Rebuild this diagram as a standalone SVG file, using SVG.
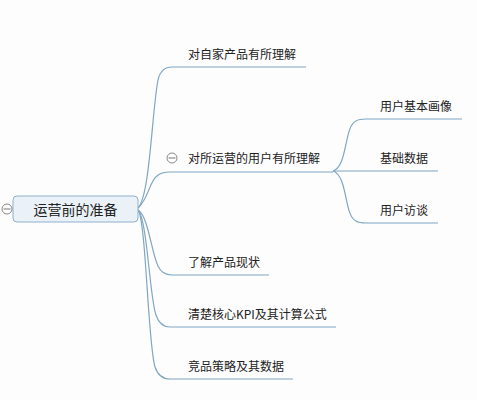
<svg xmlns="http://www.w3.org/2000/svg" width="477" height="400" viewBox="0 0 477 400">
<style>
.ln{fill:none;stroke:#7fa6c2;stroke-width:1.2}
.t{font-family:"Noto Sans CJK SC","Noto Sans",sans-serif;font-size:12px;fill:#222}
.rt{font-family:"Noto Sans CJK SC","Noto Sans",sans-serif;font-size:14px;fill:#222}
.cc{fill:#fff;stroke:#888;stroke-width:1}
.cm{stroke:#777;stroke-width:1}
</style>
<rect width="477" height="400" fill="#fdfdfe"/>
<g id="connectors">
<path class="ln" d="M138,208 C150,196 152,110 158,80 Q161,67 172,67 H306"/>
<path class="ln" d="M138,208 C148,200 150,180 157,176 Q161,172 170,172 H333"/>
<path class="ln" d="M138,210 C148,215 152,255 158,266 Q162,275 172,275 H269"/>
<path class="ln" d="M138,210 C147,218 150,300 156,315 Q160,327 170,327 H336"/>
<path class="ln" d="M138,210 C146,220 148,345 155,367 Q159,379 170,379 H293"/>
<path class="ln" d="M333,171 C348,166 344,126 356,121 Q359,119 366,119 H462"/>
<path class="ln" d="M333,171 H438"/>
<path class="ln" d="M333,171 C348,176 344,216 356,221 Q359,223 366,223 H438"/>
</g>
<g id="root">
<rect x="13" y="196" width="125" height="26" rx="4" fill="#eaf1f7" stroke="#8fb0cb" stroke-width="1"/>
<text class="rt" x="75.5" y="214.5" text-anchor="middle">运营前的准备</text>
<circle class="cc" cx="7" cy="209" r="5"/>
<line class="cm" x1="3.5" y1="209" x2="10.5" y2="209"/>
</g>
<g id="n1"><text class="t" x="188" y="59">对自家产品有所理解</text></g>
<g id="n2">
<text class="t" x="188" y="163">对所运营的用户有所理解</text>
<circle class="cc" cx="172" cy="158" r="5"/>
<line class="cm" x1="168.5" y1="158" x2="175.5" y2="158"/>
</g>
<g id="n2a"><text class="t" x="380" y="111">用户基本画像</text></g>
<g id="n2b"><text class="t" x="380" y="163">基础数据</text></g>
<g id="n2c"><text class="t" x="380" y="215">用户访谈</text></g>
<g id="n3"><text class="t" x="188" y="267">了解产品现状</text></g>
<g id="n4"><text class="t" x="188" y="319">清楚核心KPI及其计算公式</text></g>
<g id="n5"><text class="t" x="188" y="371">竞品策略及其数据</text></g>
</svg>
